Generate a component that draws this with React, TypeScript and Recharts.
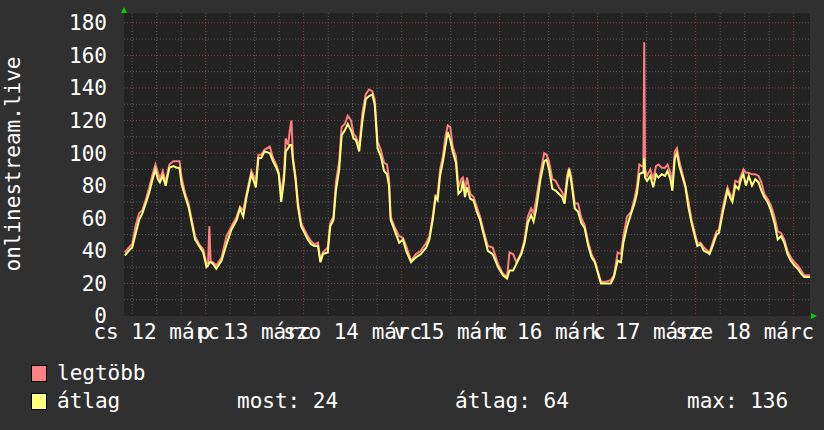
import React from 'react';
import { LineChart, Line, XAxis, YAxis, CartesianGrid } from 'recharts';

// hours counted from cs 12 márc 00:00
const hoursThu = [
  4.2, 5.5, 6, 6.8, 7.7, 8.5, 9.3, 10.2, 11, 11.7,
  12.3, 12.8, 13.5, 14.2, 15.1, 16.1, 16.9, 17.6, 18.1, 18.9,
  19.8, 20.6, 21.4, 22.4, 23.4, 24.2, 24.6, 24.9, 25.2, 25.8,
  26.6, 27.9, 29.1, 30.3, 31.6, 32.4, 33.2, 34, 35.2, 36.3,
  36.9,
];
const avgThu = [
  37, 41, 42, 50, 59, 63, 69, 76, 84, 90,
  84, 82, 86, 80, 91, 92, 91, 91, 81, 74,
  67, 57, 47, 43, 39, 30, 31, 33, 33, 32,
  29, 34, 44, 53, 59, 66, 61, 73, 87, 79,
  97,
];
const maxThu = [
  39, 43, 44, 55, 63, 65, 71, 79, 87, 93,
  88, 84, 89, 82, 93, 95, 95, 95, 85, 76,
  69, 59, 49, 44, 41, 32, 33, 55, 34, 33,
  31, 36, 49, 55, 61, 67, 65, 75, 89, 83,
  99,
];

const hoursFriSat = [
  37.6, 38.4, 39.7, 40.5, 41.3, 41.9, 42.5, 43.2, 43.6, 44.2,
  44.6, 45, 45.4, 46, 46.6, 47.4, 48.2, 49, 49.8, 50.6,
  51.5, 52.1, 52.7, 53.9, 54.5, 55.3, 55.9, 56.7, 57.3, 58.1,
  58.8, 59.6, 60.2, 60.8, 61.6, 62.4, 63.2, 64, 64.8, 65.4,
  66.1, 66.9, 67.7, 68.4, 68.9, 69.3, 70.2,
];
const avgFriSat = [
  97, 101, 100, 95, 91, 87, 70, 84, 101, 103,
  105, 105, 95, 84, 67, 55, 51, 47, 44, 43,
  43, 33, 38, 39, 55, 59, 77, 90, 111, 114,
  118, 114, 109, 108, 101, 120, 133, 135, 136, 130,
  103, 98, 89, 87, 80, 59, 53,
];
const maxFriSat = [
  99, 102, 104, 97, 93, 88, 75, 88, 109, 105,
  114, 120, 97, 86, 70, 57, 53, 49, 46, 44,
  45, 34, 39, 42, 57, 61, 82, 95, 116, 118,
  123, 120, 112, 110, 104, 125, 136, 139, 138, 133,
  107, 102, 94, 93, 84, 61, 55,
];

const hoursSun = [
  71.4, 72.3, 73.1, 74.3, 75.5, 76.7, 78, 78.8, 79.6, 80.3,
  80.8, 81.4, 82.1, 82.7, 83.3, 83.9, 84.5, 85.3, 85.9, 86.6,
  87, 87.5, 88, 88.8, 89.6, 90.4, 91.2, 92, 93.1, 94.3,
  95.6, 96.8, 97.8, 98.4, 99.3, 100.1, 101.3, 102.1, 102.9, 103.7,
  104.3,
];
const avgSun = [
  45, 47, 40, 33, 36, 38, 42, 47, 59, 73,
  71, 86, 95, 104, 113, 108, 101, 94, 75, 77,
  83, 73, 79, 72, 71, 64, 59, 51, 40, 38,
  30, 25, 23, 28, 28, 32, 38, 45, 57, 62,
  58,
];
const maxSun = [
  49, 48, 43, 34, 38, 40, 45, 49, 61, 74,
  74, 90, 98, 110, 117, 116, 104, 98, 79, 84,
  85, 77, 85, 75, 73, 67, 61, 53, 43, 42,
  32, 26, 24, 39, 38, 33, 39, 47, 61, 66,
  63,
];

const hoursMonTue = [
  104.9, 106, 106.9, 107.5, 108.1, 108.9, 109.7, 110.5, 111.3, 111.9,
  112.5, 113, 113.5, 114.4, 115.2, 116, 116.8, 117.7, 118.5, 119.3,
  120.1, 120.8, 122, 123.2, 124, 124.9, 125.7, 126.3, 127.2, 128.2,
  129, 129.6, 130.2, 130.8, 131.2, 131.4, 131.6, 132.1, 132.9, 133.6,
  134.3, 134.9, 135.7, 136.5, 137.1, 137.8, 138.3,
];
const avgMonTue = [
  65, 84, 95, 96, 90, 78, 77, 75, 73, 69,
  82, 90, 83, 66, 64, 57, 54, 43, 36, 33,
  26, 20, 20, 20, 24, 34, 33, 45, 55, 63,
  69, 75, 87, 88, 88, 97, 85, 83, 86, 79,
  87, 85, 87, 86, 89, 84, 77,
];
const maxMonTue = [
  71, 88, 100, 99, 95, 84, 83, 79, 76, 72,
  86, 91, 86, 69, 69, 60, 56, 45, 38, 34,
  27, 21, 21, 22, 25, 39, 38, 49, 61, 64,
  72, 79, 93, 92, 92, 168, 90, 86, 90, 84,
  92, 93, 91, 91, 93, 88, 82,
];

const hoursWed = [
  138.9, 139.4, 140, 140.7, 141.5, 142.2, 143, 143.8, 144.4, 145.2,
  146, 146.9, 147.4, 148.3, 149.1, 149.7, 150.6, 151.2, 151.8, 152.4,
  153, 153.7, 154.5, 155.1, 155.7, 156.3, 157, 157.8, 158.6, 159.4,
  160.1, 160.8, 161.6, 162.4, 163.3, 164.1, 164.9, 165.7, 166.5, 167.3,
  168.2, 169, 169.8, 170.6, 171.4, 172,
];
const avgWed = [
  97, 100, 92, 86, 79, 67, 57, 49, 43, 44,
  40, 39, 38, 44, 50, 51, 63, 70, 77, 73,
  70, 80, 78, 84, 87, 80, 86, 80, 84, 82,
  77, 73, 70, 65, 57, 47, 49, 45, 38, 34,
  31, 29, 26, 24, 24, 24,
];
const maxWed = [
  101, 103, 95, 88, 80, 71, 59, 51, 45, 45,
  42, 40, 39, 46, 52, 53, 66, 73, 79, 75,
  72, 83, 82, 86, 90, 88, 88, 87, 87, 86,
  82, 75, 72, 68, 61, 52, 51, 47, 40, 36,
  33, 31, 28, 25, 25, 25,
];

const dayLabelHours = [12, 36, 60, 84, 108, 132, 156];
const dayLabels = ['cs 12 márc', 'p 13 márc', 'szo 14 márc', 'v 15 márc', 'h 16 márc', 'k 17 márc', 'sze 18 márc'];
const yTicks = [0, 20, 40, 60, 80, 100, 120, 140, 160, 180];
const minorY = [10, 30, 50, 70, 90, 110, 130, 150, 170];
const majorY = [20, 40, 60, 80, 100, 120, 140, 160, 180];
const minorX = [6, 12, 18, 30, 36, 42, 54, 60, 66, 78, 84, 90, 102, 108, 114, 126, 132, 138, 150, 156, 162];
const majorX = [24, 48, 72, 96, 120, 144, 168];

const hours = [...hoursThu, ...hoursFriSat, ...hoursSun, ...hoursMonTue, ...hoursWed];
const avgVals = [...avgThu, ...avgFriSat, ...avgSun, ...avgMonTue, ...avgWed];
const maxVals = [...maxThu, ...maxFriSat, ...maxSun, ...maxMonTue, ...maxWed];
const data = hours.map((h, i) => ({ h, avg: avgVals[i], max: maxVals[i] }));

const FONT = '"DejaVu Sans Mono", monospace';
const BG = '#303030';
const PLOT_BG = '#222222';
const RED = '#ff7f7f';
const YELLOW = '#ffff7a';
const TXT = '#ffffff';

export default function App() {
  return (
    <div style={{ position: 'absolute', left: 0, top: 0, width: 824, height: 430, background: BG, fontFamily: FONT }}>
      <LineChart width={824} height={345} data={data} margin={{ top: 13, right: 14, bottom: 0, left: 0 }}>
        <CartesianGrid fill={PLOT_BG} stroke="#5a5a5a" strokeDasharray="1 2" horizontalValues={minorY} verticalValues={minorX} />
        <CartesianGrid stroke="#874040" strokeDasharray="1 2" horizontalValues={majorY} verticalValues={majorX} />
        <XAxis
          dataKey="h"
          type="number"
          domain={[4, 172]}
          allowDataOverflow
          ticks={dayLabelHours}
          interval={0}
          tickFormatter={(v: number) => dayLabels[dayLabelHours.indexOf(v)]}
          height={29}
          axisLine={false}
          tickLine={false}
          tickSize={0}
          tickMargin={8}
          tick={{ fill: TXT, fontSize: 21, fontFamily: FONT }}
        />
        <YAxis
          type="number"
          domain={[0, 186]}
          ticks={yTicks}
          interval={0}
          width={124}
          axisLine={false}
          tickLine={false}
          tickSize={0}
          tickMargin={17}
          tick={{ fill: TXT, fontSize: 21, fontFamily: FONT }}
        />
        <Line type="linear" dataKey="max" stroke={RED} strokeWidth={2} dot={false} isAnimationActive={false} />
        <Line type="linear" dataKey="avg" stroke={YELLOW} strokeWidth={2} dot={false} isAnimationActive={false} />
      </LineChart>
      <svg width={824} height={430} style={{ position: 'absolute', left: 0, top: 0, pointerEvents: 'none' }}>
        <text transform="translate(13,164) rotate(-90)" textAnchor="middle" dominantBaseline="central" fill={TXT} fontSize={21} fontFamily={FONT}>
          onlinestream.live
        </text>
        <polygon points="121,13 127,13 124,7" fill="#00d000" />
        <polygon points="811,313 811,319 817,316" fill="#00d000" />
        <rect x={31.5} y={365.5} width={15} height={16} fill="#ff8080" stroke="#000" />
        <rect x={31.5} y={393.5} width={15} height={16} fill="#ffff80" stroke="#000" />
        <g fill={TXT} fontSize={21} fontFamily={FONT}>
          <text x={57} y={380}>legtöbb</text>
          <text x={57} y={408}>átlag</text>
          <text x={237} y={408}>most: 24</text>
          <text x={455} y={408}>átlag: 64</text>
          <text x={687} y={408}>max: 136</text>
        </g>
      </svg>
    </div>
  );
}
